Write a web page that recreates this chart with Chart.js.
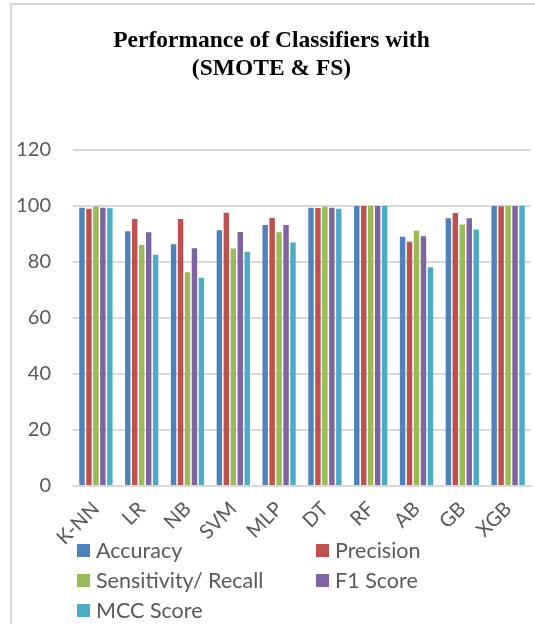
<!DOCTYPE html>
<html>
<head>
<meta charset="utf-8">
<script src="https://cdn.jsdelivr.net/npm/chart.js@4/dist/chart.umd.min.js"></script>
<style>
  body { margin: 0; background: #fff; }
  #frame { position: absolute; left: 10px; top: 3px; width: 700px; height: 800px; border: 2px solid #d9d9d9; }
  #wrap { position: absolute; left: 12px; top: 5px; width: 523px; height: 619px; }
  #legend { position: absolute; left: 77px; top: 537px; width: 440px; font: 21.5px Lato, sans-serif; color: #595959; }
  #legend .item { position: absolute; display: flex; align-items: center; white-space: nowrap; }
  #legend .box { width: 13px; height: 13px; margin-right: 6px; }
</style>
</head>
<body>
<div id="frame"></div>
<div id="wrap"><canvas id="chart"></canvas></div>
<div id="legend"></div>
<script>
const classifiers = ['K-NN', 'LR', 'NB', 'SVM', 'MLP', 'DT', 'RF', 'AB', 'GB', 'XGB'];
const accuracy  = [99.4, 91.0, 86.3, 91.3, 93.2, 99.4, 100, 89.0, 95.6, 100];
const precision = [99.0, 95.4, 95.4, 97.6, 95.7, 99.3, 100, 87.2, 97.5, 99.9];
const recall    = [99.8, 86.1, 76.3, 84.8, 90.6, 99.8, 100, 91.2, 93.4, 100];
const f1Score   = [99.4, 90.6, 84.9, 90.7, 93.2, 99.4, 100, 89.2, 95.6, 100];
const mccScore  = [99.2, 82.6, 74.4, 83.7, 87.0, 99.0, 100, 78.1, 91.6, 100];
const yTicks = [0, 20, 40, 60, 80, 100, 120];

const series = [
  { label: 'Accuracy', data: accuracy, color: '#4f81bd' },
  { label: 'Precision', data: precision, color: '#c0504d' },
  { label: 'Sensitivity/ Recall', data: recall, color: '#9bbb59' },
  { label: 'F1 Score', data: f1Score, color: '#8064a2' },
  { label: 'MCC Score', data: mccScore, color: '#4bacc6' },
];

const tickFont = { family: 'Lato, sans-serif', size: 20 };

const chart = new Chart(document.getElementById('chart'), {
  type: 'bar',
  data: {
    labels: classifiers,
    datasets: series.map(s => ({
      label: s.label,
      data: s.data,
      backgroundColor: s.color,
      barPercentage: 0.78,
      categoryPercentage: 0.76,
    })),
  },
  options: {
    responsive: true,
    maintainAspectRatio: false,
    animation: false,
    layout: { padding: { left: 0, right: 4, top: 0, bottom: 0 } },
    plugins: {
      legend: { display: false },
      tooltip: { enabled: false },
      title: {
        display: true,
        text: ['Performance of Classifiers with', '(SMOTE & FS)'],
        color: '#000',
        font: { family: '"Liberation Serif", serif', size: 23.5, weight: 'bold', lineHeight: 1.2 },
        padding: { top: 22, bottom: 66.6 },
      },
    },
    scales: {
      x: {
        grid: { display: false },
        border: { color: '#d9d9d9', width: 2 },
        ticks: { color: '#595959', font: tickFont, minRotation: 45, maxRotation: 45, padding: 3 },
        afterFit: s => { s.height = 138; },
      },
      y: {
        min: 0,
        max: 120,
        afterBuildTicks: s => { s.ticks = yTicks.map(v => ({ value: v })); },
        grid: { color: '#d9d9d9', lineWidth: 2, drawTicks: false },
        border: { display: false },
        ticks: { color: '#595959', font: tickFont, padding: 22 },
        afterFit: s => { s.width = 61; },
      },
    },
  },
});

// legend in two columns, built from the chart's own datasets
const legend = document.getElementById('legend');
chart.data.datasets.forEach((ds, i) => {
  const item = document.createElement('div');
  item.className = 'item';
  item.style.left = (i % 2 ? 239 : 0) + 'px';
  item.style.top = Math.floor(i / 2) * 30 + 'px';
  item.innerHTML = '<span class="box" style="background:' + ds.backgroundColor + '"></span>' + ds.label;
  legend.appendChild(item);
});
</script>
</body>
</html>
